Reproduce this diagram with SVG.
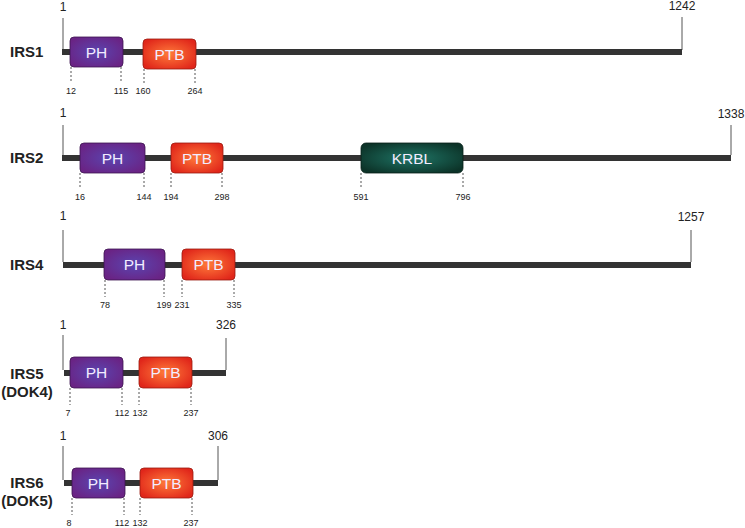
<svg xmlns="http://www.w3.org/2000/svg" width="745" height="528" viewBox="0 0 745 528">
<defs>
<radialGradient id="gPH" cx="50%" cy="50%" r="60%">
<stop offset="0" stop-color="#5a45b0"/><stop offset="1" stop-color="#6a2384"/>
</radialGradient>
<radialGradient id="gPTB" cx="50%" cy="50%" r="60%">
<stop offset="0" stop-color="#ff7a3a"/><stop offset="1" stop-color="#e0261a"/>
</radialGradient>
<radialGradient id="gKR" cx="50%" cy="50%" r="60%">
<stop offset="0" stop-color="#1f7566"/><stop offset="1" stop-color="#0c3328"/>
</radialGradient>
</defs>
<style>
.bar{fill:#333333}
.tick{stroke:#555;stroke-width:1}
.dash{stroke:#555;stroke-width:1;stroke-dasharray:2,2}
.ph{fill:url(#gPH);stroke:#3e1550;stroke-width:0.8}
.ptb{fill:url(#gPTB);stroke:#9a1a10;stroke-width:0.8}
.kr{fill:url(#gKR);stroke:#082018;stroke-width:0.8}
.dt{font-family:"Liberation Sans",Arial,sans-serif;font-size:15.5px;fill:#f2ecff;text-anchor:middle}
.num{font-family:"Liberation Sans",Arial,sans-serif;font-size:9px;fill:#222;text-anchor:middle}
.end{font-family:"Liberation Sans",Arial,sans-serif;font-size:12px;fill:#222;text-anchor:middle}
.nm{font-family:"Liberation Sans",Arial,sans-serif;font-size:15px;font-weight:bold;fill:#222}
</style>
<g id="connectors">
<line class="tick" x1="63" y1="18" x2="63" y2="50"/>
<line class="tick" x1="682" y1="17" x2="682" y2="50"/>
<line class="tick" x1="63" y1="125" x2="63" y2="155"/>
<line class="tick" x1="731" y1="125" x2="731" y2="155"/>
<line class="tick" x1="63" y1="230" x2="63" y2="262"/>
<line class="tick" x1="691" y1="230" x2="691" y2="262"/>
<line class="tick" x1="63" y1="335" x2="63" y2="370"/>
<line class="tick" x1="226" y1="338" x2="226" y2="370"/>
<line class="tick" x1="63" y1="446" x2="63" y2="480"/>
<line class="tick" x1="218" y1="446" x2="218" y2="480"/>
<line class="dash" x1="71" y1="67" x2="71" y2="83"/>
<line class="dash" x1="121" y1="67" x2="121" y2="83"/>
<line class="dash" x1="144" y1="69" x2="144" y2="83"/>
<line class="dash" x1="195" y1="69" x2="195" y2="83"/>
<line class="dash" x1="80" y1="173" x2="80" y2="189"/>
<line class="dash" x1="144" y1="173" x2="144" y2="189"/>
<line class="dash" x1="171" y1="173" x2="171" y2="189"/>
<line class="dash" x1="222" y1="173" x2="222" y2="189"/>
<line class="dash" x1="361" y1="173" x2="361" y2="189"/>
<line class="dash" x1="463" y1="173" x2="463" y2="189"/>
<line class="dash" x1="105" y1="280" x2="105" y2="297"/>
<line class="dash" x1="164" y1="280" x2="164" y2="297"/>
<line class="dash" x1="182" y1="280" x2="182" y2="297"/>
<line class="dash" x1="234" y1="280" x2="234" y2="297"/>
<line class="dash" x1="70" y1="388" x2="70" y2="405"/>
<line class="dash" x1="122" y1="388" x2="122" y2="405"/>
<line class="dash" x1="139" y1="388" x2="139" y2="405"/>
<line class="dash" x1="191" y1="388" x2="191" y2="405"/>
<line class="dash" x1="72" y1="498" x2="72" y2="515"/>
<line class="dash" x1="124" y1="498" x2="124" y2="515"/>
<line class="dash" x1="140" y1="498" x2="140" y2="515"/>
<line class="dash" x1="192" y1="498" x2="192" y2="515"/>
</g>
<g id="irs1">
<text class="nm" x="10" y="57">IRS1</text>
<rect class="bar" x="62" y="49" width="620" height="6"/>
<text class="end" x="63" y="11">1</text>
<text class="end" x="682" y="10">1242</text>
<g id="irs1-ph"><rect class="ph" x="70" y="37" width="53" height="30" rx="4"/><text class="dt" x="96.5" y="57.5">PH</text></g>
<g id="irs1-ptb"><rect class="ptb" x="143" y="39" width="53" height="30" rx="4"/><text class="dt" x="169.5" y="59.5">PTB</text></g>
<text class="num" x="71" y="94">12</text>
<text class="num" x="121" y="94">115</text>
<text class="num" x="143" y="94">160</text>
<text class="num" x="195" y="94">264</text>
</g>
<g id="irs2">
<text class="nm" x="10" y="163">IRS2</text>
<rect class="bar" x="62" y="155" width="669" height="6"/>
<text class="end" x="63" y="117">1</text>
<text class="end" x="731" y="118">1338</text>
<g id="irs2-ph"><rect class="ph" x="80" y="143" width="65" height="30" rx="4"/><text class="dt" x="112.5" y="163.5">PH</text></g>
<g id="irs2-ptb"><rect class="ptb" x="171" y="143" width="52" height="30" rx="4"/><text class="dt" x="197" y="163.5">PTB</text></g>
<g id="irs2-krbl"><rect class="kr" x="361" y="143" width="102" height="30" rx="5"/><text class="dt" x="412" y="163.5">KRBL</text></g>
<text class="num" x="80" y="200">16</text>
<text class="num" x="144" y="200">144</text>
<text class="num" x="171" y="200">194</text>
<text class="num" x="222" y="200">298</text>
<text class="num" x="361" y="200">591</text>
<text class="num" x="463" y="200">796</text>
</g>
<g id="irs4">
<text class="nm" x="10" y="270">IRS4</text>
<rect class="bar" x="63" y="262" width="628" height="6"/>
<text class="end" x="63" y="220">1</text>
<text class="end" x="691" y="221">1257</text>
<g id="irs4-ph"><rect class="ph" x="104" y="249" width="61" height="31" rx="4"/><text class="dt" x="134.5" y="270">PH</text></g>
<g id="irs4-ptb"><rect class="ptb" x="182" y="249" width="53" height="31" rx="4"/><text class="dt" x="208.5" y="270">PTB</text></g>
<text class="num" x="105" y="308">78</text>
<text class="num" x="164" y="308">199</text>
<text class="num" x="182" y="308">231</text>
<text class="num" x="234" y="308">335</text>
</g>
<g id="irs5">
<text class="nm" x="27" y="379" text-anchor="middle">IRS5</text>
<text class="nm" x="27" y="397" text-anchor="middle">(DOK4)</text>
<rect class="bar" x="64" y="370" width="162" height="6"/>
<text class="end" x="63" y="329">1</text>
<text class="end" x="226" y="329">326</text>
<g id="irs5-ph"><rect class="ph" x="70" y="357" width="53" height="31" rx="4"/><text class="dt" x="96.5" y="378">PH</text></g>
<g id="irs5-ptb"><rect class="ptb" x="139" y="357" width="53" height="31" rx="4"/><text class="dt" x="165.5" y="378">PTB</text></g>
<text class="num" x="68" y="416">7</text>
<text class="num" x="122" y="416">112</text>
<text class="num" x="140" y="416">132</text>
<text class="num" x="191" y="416">237</text>
</g>
<g id="irs6">
<text class="nm" x="27" y="488" text-anchor="middle">IRS6</text>
<text class="nm" x="27" y="506" text-anchor="middle">(DOK5)</text>
<rect class="bar" x="64" y="480" width="154" height="6"/>
<text class="end" x="63" y="440">1</text>
<text class="end" x="218" y="440">306</text>
<g id="irs6-ph"><rect class="ph" x="72" y="468" width="53" height="30" rx="4"/><text class="dt" x="98.5" y="488.5">PH</text></g>
<g id="irs6-ptb"><rect class="ptb" x="140" y="468" width="53" height="30" rx="4"/><text class="dt" x="166.5" y="488.5">PTB</text></g>
<text class="num" x="69" y="526">8</text>
<text class="num" x="122" y="526">112</text>
<text class="num" x="140" y="526">132</text>
<text class="num" x="191" y="526">237</text>
</g>
</svg>
